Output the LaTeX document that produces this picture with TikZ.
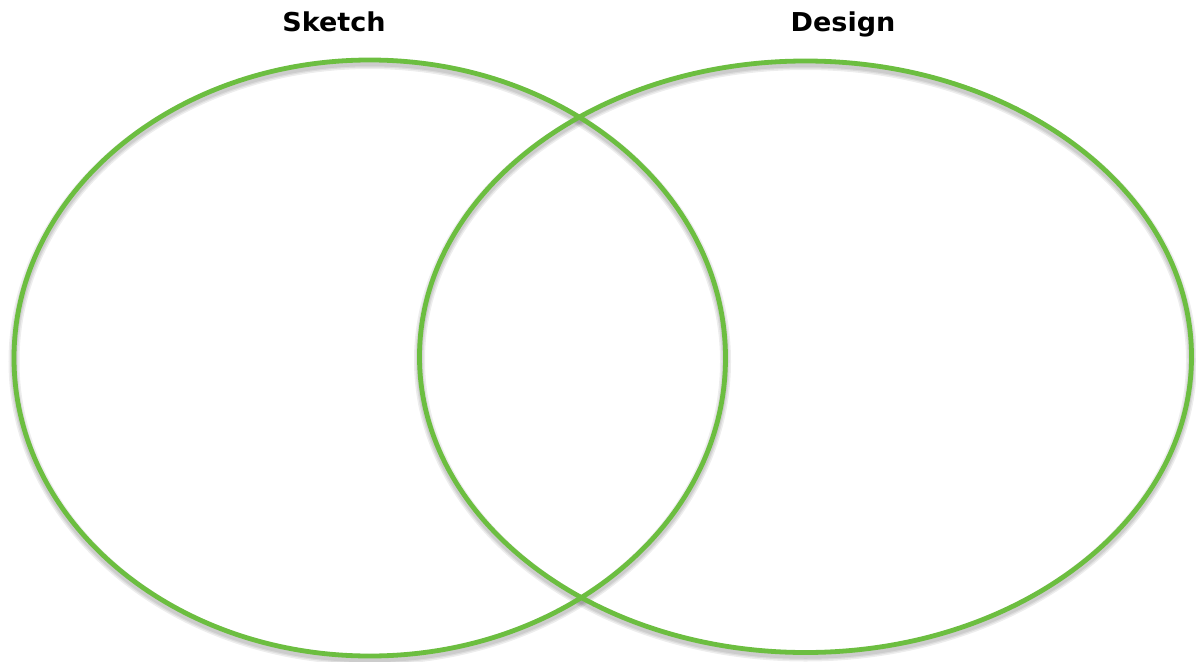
\documentclass[tikz,border=0pt]{standalone}
\usepackage{fontspec}
\newfontfamily\labelfont{DejaVu Sans}
\definecolor{venngreen}{RGB}{108,190,64}
\tikzset{
  vennring/.style={draw=venngreen, line width=4.8pt},
  vennshadow/.style={draw=black, line width=#1, opacity=0.07},
  setlabel/.style={font=\labelfont\bfseries\fontsize{26}{30}\selectfont, anchor=base, inner sep=0pt}
}
\begin{document}
\begin{tikzpicture}[x=1pt,y=-1pt]
\useasboundingbox[fill=white] (0,0) rectangle (1196,661);
% soft shadows
\foreach \w in {11pt,8pt,5.5pt}{
  \draw[vennshadow=\w] (369.75,361.5) ellipse [x radius=355.75, y radius=298];
  \draw[vennshadow=\w] (805.5,360.25) ellipse [x radius=386, y radius=295.75];
}
% rings
\draw[vennring] (369.75,358) ellipse [x radius=355.75, y radius=298];
\draw[vennring] (805.5,356.75) ellipse [x radius=386, y radius=295.75];
\coordinate (leftc) at (369.75,358);
\coordinate (rightc) at (805.5,356.75);
% labels
\node[setlabel] (sketch) at (334,32) {\scalebox{1.04}[1]{Sketch}};
\node[setlabel] (design) at (843,32) {\scalebox{1.04}[1]{Design}};
\end{tikzpicture}
\end{document}
